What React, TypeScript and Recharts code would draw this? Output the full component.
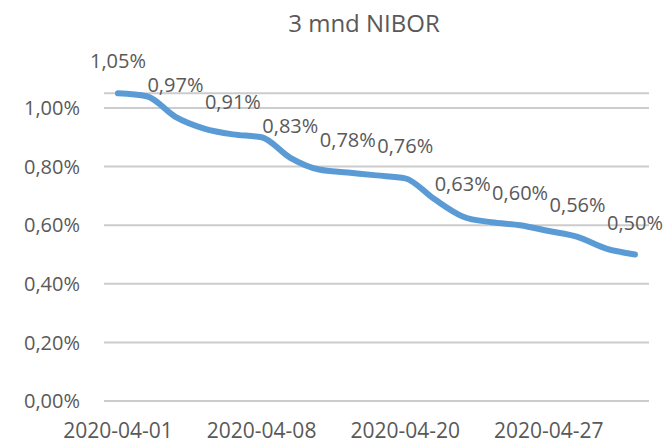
import { LineChart, Line, XAxis, YAxis, CartesianGrid, LabelList } from 'recharts'

const dates = [
  '2020-04-01', '2020-04-02', '2020-04-03', '2020-04-06', '2020-04-07',
  '2020-04-08', '2020-04-14', '2020-04-15', '2020-04-16', '2020-04-17',
  '2020-04-20', '2020-04-21', '2020-04-22', '2020-04-23', '2020-04-24',
  '2020-04-27', '2020-04-28', '2020-04-29', '2020-04-30',
]
const nibor = [
  1.05, 1.04, 0.97, 0.93, 0.91,
  0.90, 0.83, 0.79, 0.78, 0.77,
  0.76, 0.69, 0.63, 0.61, 0.60,
  0.58, 0.56, 0.52, 0.50,
]
const yTicks = [0, 0.2, 0.4, 0.6, 0.8, 1.0]

const data = dates.map((date, i) => ({ date, value: nibor[i] }))

const TEXT = '#595959'
const fmt = (v: number) => v.toFixed(2).replace('.', ',') + '%'

// Excel shows a label on every second point only
const PointLabel = ({ x, y, value, index }: any) => {
  if (index % 2 !== 0) return null
  return (
    <text x={x} y={y - 25} textAnchor="middle" fill={TEXT} fontSize={20}>
      {fmt(value)}
    </text>
  )
}

export default function App() {
  return (
    <div style={{ position: 'absolute', left: 0, top: 0, width: 666, height: 443, background: '#fff', fontFamily: '"Open Sans", sans-serif' }}>
      <div style={{ position: 'absolute', left: 0, width: 728, top: 6, textAlign: 'center', fontSize: 24, color: TEXT, lineHeight: '34px' }}>
        3 mnd NIBOR
      </div>
      <LineChart width={666} height={443} data={data} margin={{ top: 93.35, right: 17, bottom: 0, left: 0 }}>
        <CartesianGrid vertical={false} stroke="#cccccc" strokeWidth={2} />
        <XAxis
          dataKey="date"
          interval={4}
          padding={{ left: 14, right: 14 }}
          axisLine={false}
          tickLine={false}
          tickSize={0}
          tickMargin={22}
          height={42}
          tick={{ fill: TEXT, fontSize: 21 }}
        />
        <YAxis
          domain={[0, 1.05]}
          ticks={yTicks}
          tickFormatter={fmt}
          axisLine={false}
          tickLine={false}
          tickSize={0}
          tickMargin={24}
          width={104}
          tick={{ fill: TEXT, fontSize: 20 }}
        />
        <Line
          type="monotone"
          dataKey="value"
          stroke="#5b9bd5"
          strokeWidth={6}
          strokeLinecap="round"
          dot={false}
          isAnimationActive={false}
        >
          <LabelList dataKey="value" content={<PointLabel />} />
        </Line>
      </LineChart>
    </div>
  )
}
